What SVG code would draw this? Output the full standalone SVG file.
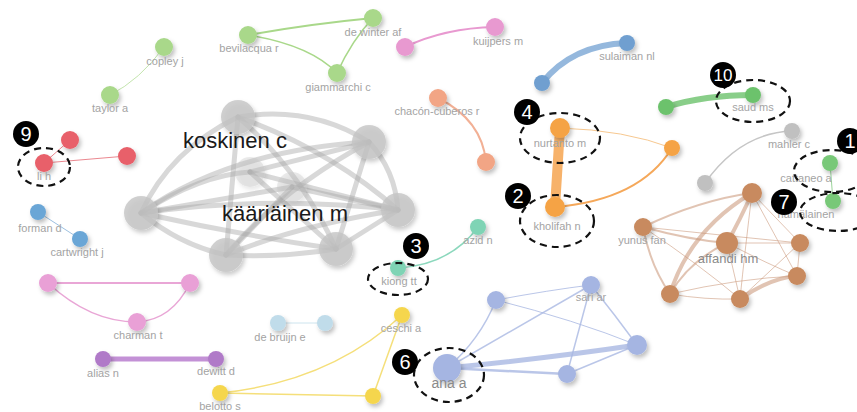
<svg xmlns="http://www.w3.org/2000/svg" width="857" height="412" viewBox="0 0 857 412">
<defs>
<filter id="sh" x="-50%" y="-50%" width="200%" height="200%">
<feDropShadow dx="2" dy="3" stdDeviation="2" flood-color="#000" flood-opacity="0.25"/>
</filter>
<style>
text{font-family:"Liberation Sans",Arial,sans-serif}
.lbl{font-size:11px;fill:#a3a3a3;text-anchor:middle}
.big{font-size:22px;fill:#1a1a1a}
.n{filter:url(#sh)}
.e{fill:none;stroke-linecap:round}
.gr{stroke:#a8a8a8;stroke-opacity:0.45;stroke-width:5}
.ell{fill:none;stroke:#111;stroke-width:2.2;stroke-dasharray:7 5}
.bd{fill:#000}
.bt{fill:#fff;font-size:20px;text-anchor:middle}
</style>
</defs>
<rect width="857" height="412" fill="#fff"/>
<g id="connectors" class="e">
<g class="gr">
<path d="M238,117 Q310,105 369,142"/>
<path d="M238,117 Q170,150 141,213"/>
<path d="M238,117 Q330,150 398,210"/>
<path d="M238,117 L226,255"/>
<path d="M238,117 Q300,170 336,249"/>
<path d="M369,142 Q230,150 141,213"/>
<path d="M369,142 Q395,170 398,210"/>
<path d="M369,142 Q280,190 226,255"/>
<path d="M369,142 L336,249"/>
<path d="M141,213 Q270,195 398,210"/>
<path d="M141,213 Q180,245 226,255"/>
<path d="M141,213 Q240,235 336,249"/>
<path d="M398,210 Q300,225 226,255"/>
<path d="M398,210 L336,249"/>
<path d="M226,255 Q280,258 336,249"/>
<path d="M141,213 Q200,175 250,172"/>
<path d="M250,172 L398,210"/>
<path d="M250,172 L369,142"/>
<path d="M292,187 L226,255"/>
<path d="M292,187 L398,210"/>
<path d="M292,187 L141,213"/>
<path d="M250,172 L336,249"/>
</g>
<path d="M164,47 Q140,80 110,95" stroke="#a9d88a" stroke-width="1" stroke-opacity="0.7"/>
<path d="M248,35 Q310,24 373,18" stroke="#a9d88a" stroke-width="2"/>
<path d="M248,35 Q310,45 337,73" stroke="#a9d88a" stroke-width="1.6"/>
<path d="M373,18 Q352,40 337,73" stroke="#a9d88a" stroke-width="1.6"/>
<path d="M44,163 L70,140" stroke="#eb8890" stroke-width="1"/>
<path d="M44,163 L127,156" stroke="#eb8890" stroke-width="1"/>
<path d="M38,212 L80,239" stroke="#9cc0e0" stroke-width="1"/>
<path d="M405,47 Q445,28 495,27" stroke="#e899d0" stroke-width="2"/>
<path d="M438,98 Q482,120 486,162" stroke="#f2b095" stroke-width="2"/>
<path d="M542,83 Q572,45 627,43" stroke="#7aa6d4" stroke-opacity="0.8" stroke-width="6"/>
<path d="M666,107 Q705,95 753,95" stroke="#6cc26c" stroke-opacity="0.8" stroke-width="6"/>
<path d="M560,128 L555,207" stroke="#f7b26a" stroke-width="10"/>
<path d="M560,128 Q625,130 672,148" stroke="#f7c890" stroke-width="1"/>
<path d="M555,207 Q640,200 672,148" stroke="#f5a85a" stroke-width="2"/>
<path d="M705,183 Q740,133 792,131" stroke="#c6c6c6" stroke-width="1.5"/>
<path d="M830,163 L833,201" stroke="#9ad49a" stroke-width="1"/>
<g stroke="#c99474" stroke-opacity="0.55">
<path d="M643,227 Q700,200 752,193" stroke-width="2"/>
<path d="M752,193 Q740,220 727,243" stroke-width="4"/>
<path d="M752,193 Q690,230 670,294" stroke-width="4"/>
<path d="M752,193 Q745,250 740,299" stroke-width="1"/>
<path d="M752,193 L800,243" stroke-width="1"/>
<path d="M752,193 L797,276" stroke-width="1"/>
<path d="M643,227 Q690,240 727,243" stroke-width="2"/>
<path d="M643,227 Q720,235 800,243" stroke-width="1"/>
<path d="M643,227 Q650,265 670,294" stroke-width="2"/>
<path d="M643,227 Q700,265 740,299" stroke-width="1"/>
<path d="M727,243 Q690,260 670,294" stroke-width="2"/>
<path d="M727,243 L740,299" stroke-width="1"/>
<path d="M727,243 L800,243" stroke-width="1"/>
<path d="M727,243 Q770,265 797,276" stroke-width="1"/>
<path d="M670,294 Q705,300 740,299" stroke-width="1"/>
<path d="M670,294 Q740,278 797,276" stroke-width="1"/>
<path d="M740,299 Q770,278 797,276" stroke-width="4"/>
<path d="M800,243 L797,276" stroke-width="1"/>
<path d="M800,243 L740,299" stroke-width="1"/>
</g>
<path d="M398,268 Q450,265 478,227" stroke="#8cd8bd" stroke-width="1.5"/>
<path d="M48,283 L190,283" stroke="#e9a6d6" stroke-width="2"/>
<path d="M48,283 Q90,322 137,322 Q172,320 190,283" stroke="#e9a6d6" stroke-width="1.5"/>
<path d="M103,359 L216,359" stroke="#c391d6" stroke-width="5"/>
<path d="M278,323 L325,323" stroke="#cde4ee" stroke-width="1"/>
<path d="M220,393 Q330,382 402,315" stroke="#f5df7a" stroke-width="1.5"/>
<path d="M220,393 L373,396" stroke="#f5df7a" stroke-width="1.5"/>
<path d="M402,315 L373,396" stroke="#f5df7a" stroke-width="1.5"/>
<g stroke="#a9b8e2" stroke-opacity="0.8">
<path d="M447,368 Q480,340 496,300" stroke-width="1.5"/>
<path d="M447,368 Q530,320 591,285" stroke-width="1.5"/>
<path d="M447,368 Q550,358 637,345" stroke-width="5"/>
<path d="M447,368 L567,374" stroke-width="2.5"/>
<path d="M496,300 Q550,290 591,285" stroke-width="1"/>
<path d="M496,300 Q575,320 637,345" stroke-width="1"/>
<path d="M591,285 L567,374" stroke-width="1.5"/>
<path d="M591,285 Q615,315 637,345" stroke-width="1.5"/>
<path d="M567,374 L637,345" stroke-width="1.5"/>
</g>
</g>
<g id="gray-cluster" fill="#c4c4c4" fill-opacity="0.8">
<circle class="n" cx="250" cy="172" r="15" fill-opacity="0.35"/>
<circle class="n" cx="292" cy="187" r="15" fill-opacity="0.35"/>
<circle class="n" cx="238" cy="117" r="17"/>
<circle class="n" cx="369" cy="142" r="17"/>
<circle class="n" cx="141" cy="213" r="17"/>
<circle class="n" cx="398" cy="210" r="17"/>
<circle class="n" cx="226" cy="255" r="17"/>
<circle class="n" cx="336" cy="249" r="17"/>
</g>
<g id="koskinen"><text class="big" x="183" y="148">koskinen c</text></g>
<g id="kaariainen"><text class="big" x="222" y="221">kääriäinen m</text></g>
<g id="copley" fill="#a9d88a"><circle class="n" cx="164" cy="47" r="9"/><text class="lbl" x="165" y="65">copley j</text></g>
<g id="taylor" fill="#a9d88a"><circle class="n" cx="110" cy="95" r="9"/><text class="lbl" x="110" y="112">taylor a</text></g>
<g id="bevilacqua" fill="#a9d88a"><circle class="n" cx="248" cy="35" r="9"/><text class="lbl" x="249" y="52">bevilacqua r</text></g>
<g id="dewinter" fill="#a9d88a"><circle class="n" cx="373" cy="18" r="9"/><text class="lbl" x="373" y="36">de winter af</text></g>
<g id="giammarchi" fill="#a9d88a"><circle class="n" cx="337" cy="73" r="9"/><text class="lbl" x="338" y="91">giammarchi c</text></g>
<g id="pink1" fill="#e899d0"><circle class="n" cx="405" cy="47" r="9"/></g>
<g id="kuijpers" fill="#e899d0"><circle class="n" cx="495" cy="27" r="9"/><text class="lbl" x="498" y="45">kuijpers m</text></g>
<g id="chacon" fill="#f2a585"><circle class="n" cx="438" cy="98" r="9"/><text class="lbl" x="437" y="115">chacón-cuberos r</text></g>
<g id="salmon2" fill="#f2a585"><circle class="n" cx="486" cy="162" r="9"/></g>
<g id="red1" fill="#e8606a"><circle class="n" cx="70" cy="140" r="9"/></g>
<g id="lih" fill="#e8606a"><circle class="n" cx="44" cy="163" r="9"/><text class="lbl" x="44" y="180">li h</text></g>
<g id="red2" fill="#e8606a"><circle class="n" cx="127" cy="156" r="9"/></g>
<g id="forman" fill="#6aa6d6"><circle class="n" cx="38" cy="212" r="8"/><text class="lbl" x="40" y="232">forman d</text></g>
<g id="cartwright" fill="#6aa6d6"><circle class="n" cx="80" cy="239" r="8"/><text class="lbl" x="77" y="256">cartwright j</text></g>
<g id="blue2" fill="#6f9fd0"><circle class="n" cx="542" cy="83" r="8"/></g>
<g id="sulaiman" fill="#6f9fd0"><circle class="n" cx="627" cy="43" r="8"/><text class="lbl" x="627" y="60">sulaiman nl</text></g>
<g id="green2" fill="#6cc26c"><circle class="n" cx="666" cy="107" r="8"/></g>
<g id="saud" fill="#6cc26c"><circle class="n" cx="753" cy="95" r="8"/><text class="lbl" x="753" y="111">saud ms</text></g>
<g id="nurtanto" fill="#f5a345"><circle class="n" cx="560" cy="128" r="10"/><text class="lbl" x="560" y="147">nurtanto m</text></g>
<g id="kholifah" fill="#f5a345"><circle class="n" cx="555" cy="207" r="10"/><text class="lbl" x="557" y="230">kholifah n</text></g>
<g id="orange3" fill="#f5a345"><circle class="n" cx="672" cy="148" r="8"/></g>
<g id="mahler" fill="#c0c0c0"><circle class="n" cx="792" cy="131" r="8"/><text class="lbl" x="789" y="148">mahler c</text></g>
<g id="gray2" fill="#c0c0c0"><circle class="n" cx="705" cy="183" r="8"/></g>
<g id="cattaneo" fill="#78c878"><circle class="n" cx="830" cy="163" r="8"/><text class="lbl" x="806" y="182" text-anchor="start">cattaneo a</text></g>
<g id="hamalainen" fill="#78c878"><circle class="n" cx="833" cy="201" r="8"/><text class="lbl" x="806" y="218" text-anchor="start">hämälainen</text></g>
<g id="brown-top" fill="#c88a5f"><circle class="n" cx="752" cy="193" r="10"/></g>
<g id="yunus" fill="#c88a5f"><circle class="n" cx="643" cy="227" r="9"/><text class="lbl" x="642" y="244">yunus fan</text></g>
<g id="affandi" fill="#c88a5f"><circle class="n" cx="727" cy="243" r="11"/><text x="728" y="263" style="font-size:13px;fill:#8a8a8a;text-anchor:middle">affandi hm</text></g>
<g id="brown-r" fill="#c88a5f"><circle class="n" cx="800" cy="243" r="9"/></g>
<g id="brown-rl" fill="#c88a5f"><circle class="n" cx="797" cy="276" r="9"/></g>
<g id="brown-bl" fill="#c88a5f"><circle class="n" cx="670" cy="294" r="9"/></g>
<g id="brown-bm" fill="#c88a5f"><circle class="n" cx="740" cy="299" r="9"/></g>
<g id="kiong" fill="#7fd4b5"><circle class="n" cx="398" cy="268" r="8"/><text class="lbl" x="399" y="285">kiong tt</text></g>
<g id="azid" fill="#7fd4b5"><circle class="n" cx="478" cy="227" r="8"/><text class="lbl" x="478" y="244">azid n</text></g>
<g id="pink-l" fill="#e9a0d6"><circle class="n" cx="48" cy="283" r="9"/></g>
<g id="pink-r" fill="#e9a0d6"><circle class="n" cx="190" cy="283" r="9"/></g>
<g id="charman" fill="#e9a0d6"><circle class="n" cx="137" cy="322" r="9"/><text class="lbl" x="138" y="339">charman t</text></g>
<g id="alias" fill="#b07ac8"><circle class="n" cx="103" cy="359" r="8"/><text class="lbl" x="103" y="377">alias n</text></g>
<g id="dewitt" fill="#b07ac8"><circle class="n" cx="216" cy="359" r="8"/><text class="lbl" x="216" y="375">dewitt d</text></g>
<g id="debruijn" fill="#c0dcea"><circle class="n" cx="278" cy="323" r="8"/><text class="lbl" x="280" y="341">de bruijn e</text></g>
<g id="lightblue2" fill="#c0dcea"><circle class="n" cx="325" cy="323" r="8"/></g>
<g id="ceschi" fill="#f5d64e"><circle class="n" cx="402" cy="315" r="8"/><text class="lbl" x="401" y="332">ceschi a</text></g>
<g id="yellow-b" fill="#f5d64e"><circle class="n" cx="373" cy="396" r="8"/></g>
<g id="belotto" fill="#f5d64e"><circle class="n" cx="220" cy="393" r="8"/><text class="lbl" x="220" y="410">belotto s</text></g>
<g id="ana" fill="#a5b5e2"><circle class="n" cx="447" cy="368" r="14"/><text x="449" y="388" style="font-size:14px;fill:#8a8a8a;text-anchor:middle">ana a</text></g>
<g id="lav-tl" fill="#a5b5e2"><circle class="n" cx="496" cy="300" r="9"/></g>
<g id="sari" fill="#a5b5e2"><circle class="n" cx="591" cy="285" r="9"/><text class="lbl" x="591" y="301">sari ar</text></g>
<g id="lav-r" fill="#a5b5e2"><circle class="n" cx="637" cy="345" r="10"/></g>
<g id="lav-b" fill="#a5b5e2"><circle class="n" cx="567" cy="374" r="9"/></g>
<g id="annotations">
<ellipse class="ell" cx="44" cy="167" rx="26" ry="19"/>
<ellipse class="ell" cx="560" cy="138" rx="40" ry="25"/>
<ellipse class="ell" cx="557" cy="221" rx="37" ry="26"/>
<ellipse class="ell" cx="398" cy="279" rx="30" ry="16"/>
<ellipse class="ell" cx="449" cy="375" rx="35" ry="27"/>
<ellipse class="ell" cx="753" cy="101" rx="37" ry="21"/>
<ellipse class="ell" cx="832" cy="171" rx="38" ry="21"/>
<ellipse class="ell" cx="838" cy="212" rx="38" ry="19"/>
</g>
<g id="badges">
<g id="b9"><circle class="bd" cx="26" cy="134" r="13"/><text class="bt" x="26" y="141">9</text></g>
<g id="b4"><circle class="bd" cx="527" cy="112" r="13"/><text class="bt" x="527" y="119">4</text></g>
<g id="b2"><circle class="bd" cx="518" cy="196" r="13"/><text class="bt" x="518" y="203">2</text></g>
<g id="b3"><circle class="bd" cx="416" cy="246" r="13"/><text class="bt" x="416" y="253">3</text></g>
<g id="b6"><circle class="bd" cx="405" cy="362" r="13"/><text class="bt" x="405" y="369">6</text></g>
<g id="b10"><circle class="bd" cx="723" cy="75" r="13"/><text class="bt" x="723" y="81" style="font-size:17px">10</text></g>
<g id="b1"><circle class="bd" cx="850" cy="141" r="13"/><text class="bt" x="850" y="148">1</text></g>
<g id="b7"><circle class="bd" cx="784" cy="202" r="13"/><text class="bt" x="784" y="209">7</text></g>
</g>
</svg>
